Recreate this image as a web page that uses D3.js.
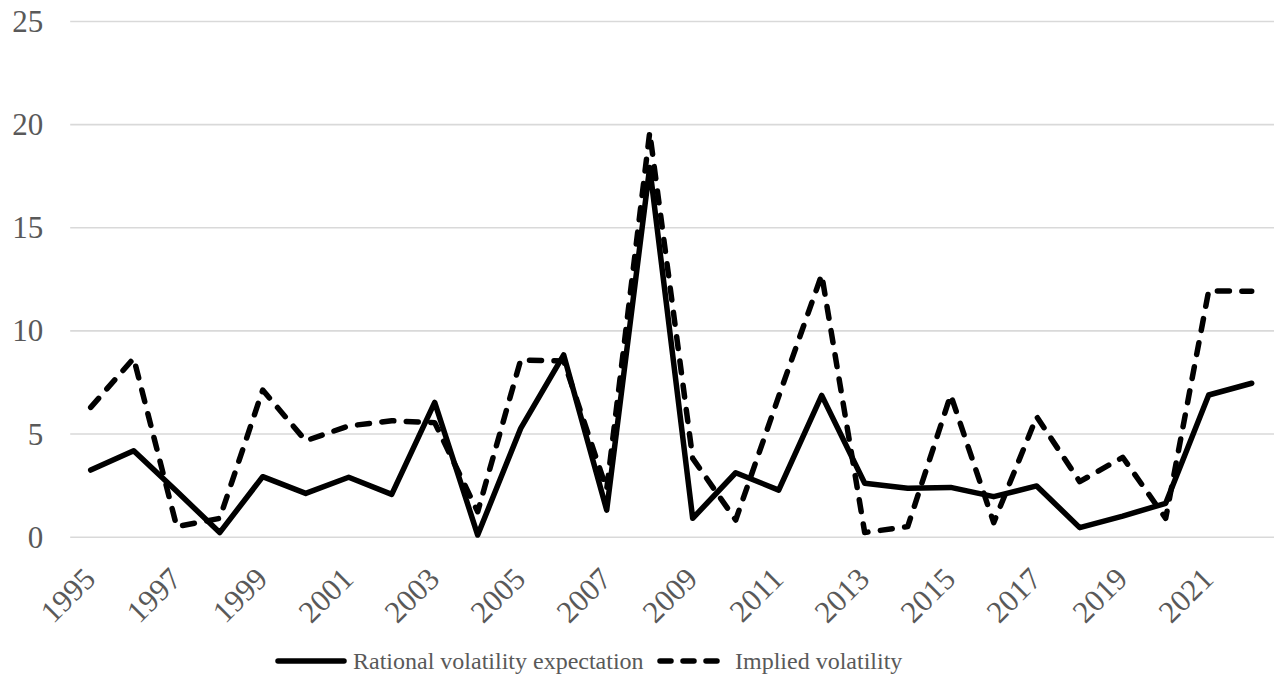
<!DOCTYPE html>
<html>
<head>
<meta charset="utf-8">
<script src="https://cdn.jsdelivr.net/npm/d3@7/dist/d3.min.js"></script>
<style>
  html, body { margin: 0; padding: 0; background: #ffffff; }
  svg { display: block; }
</style>
</head>
<body>
<svg id="chart" width="1274" height="676"></svg>
<script>
const years = [1995,1996,1997,1998,1999,2000,2001,2002,2003,2004,2005,2006,2007,2008,2009,2010,2011,2012,2013,2014,2015,2016,2017,2018,2019,2020,2021,2022];
const rational = [3.23,4.17,2.2,0.2,2.91,2.1,2.88,2.05,6.51,0.08,5.25,8.81,1.29,17.9,0.89,3.1,2.26,6.85,2.59,2.35,2.39,1.94,2.46,0.44,1.0,1.62,6.87,7.44];
const implied = [6.27,8.65,0.49,0.89,7.11,4.65,5.37,5.62,5.53,1.21,8.57,8.52,2.3,19.6,3.8,0.81,6.8,12.7,0.2,0.49,6.87,0.68,5.82,2.67,3.85,0.89,11.92,11.9];
const yTicks = [0,5,10,15,20,25];
const xTickLabels = [1995,1997,1999,2001,2003,2005,2007,2009,2011,2013,2015,2017,2019,2021];
const seriesNames = ["Rational volatility expectation", "Implied volatility"];

(function () {
const svg = d3.select("#chart");
const plotLeft = 69.2, plotRight = 1273.2, plotTop = 21, plotBottom = 536.7;
const font = "'Liberation Serif','Times New Roman',serif";
const labelColor = "#595959";

const x = d3.scalePoint().domain(years).range([plotLeft, plotRight]).padding(0.5);
const y = d3.scaleLinear().domain([0, 25]).range([plotBottom, plotTop]);

// gridlines + y labels
const yAxis = d3.axisLeft(y).tickValues(yTicks).tickSize(-(plotRight - plotLeft)).tickPadding(27).tickFormat(d3.format("d"));
const gy = svg.append("g").attr("transform", `translate(${plotLeft + 1},0)`).call(yAxis);
gy.select(".domain").remove();
gy.selectAll(".tick line").attr("stroke", "#d9d9d9").attr("stroke-width", 1.6);
gy.selectAll(".tick text").attr("fill", labelColor).style("font-family", font).style("font-size", "31px").attr("dy", "0.34em");

// x axis labels
const xAxis = d3.axisBottom(x).tickValues(xTickLabels).tickSize(0).tickFormat(d3.format("d"));
const gx = svg.append("g").attr("transform", `translate(0,${plotBottom})`).call(xAxis);
gx.select(".domain").remove();
gx.selectAll(".tick text")
  .attr("fill", labelColor)
  .style("font-family", font).style("font-size", "31px")
  .attr("text-anchor", "end")
  .attr("y", 0).attr("dy", 0)
  .attr("transform", "translate(6,44) rotate(-45)");

// lines
const line = d3.line().x((d, i) => x(years[i])).y(d => y(d));
svg.append("path").datum(rational)
  .attr("d", line).attr("fill", "none").attr("stroke", "#000")
  .attr("stroke-width", 5.5).attr("stroke-linejoin", "round").attr("stroke-linecap", "round");
svg.append("path").datum(implied)
  .attr("d", line).attr("fill", "none").attr("stroke", "#000")
  .attr("stroke-width", 5.5).attr("stroke-linejoin", "round").attr("stroke-linecap", "round")
  .attr("stroke-dasharray", "12,12.5");

// legend
const legY = 661;
const lg = svg.append("g");
const items = [
  {name: seriesNames[0], dash: null, x0: 275},
  {name: seriesNames[1], dash: "11,12", x0: 657}
];
items.forEach(it => {
  lg.append("line").attr("x1", it.x0 + 3).attr("x2", it.x0 + 69).attr("y1", legY).attr("y2", legY)
    .attr("stroke", "#000").attr("stroke-width", 5.5).attr("stroke-linecap", "round")
    .attr("stroke-dasharray", it.dash);
  lg.append("text").attr("x", it.x0 + 78).attr("y", legY).attr("dy", "0.33em")
    .attr("fill", labelColor).style("font-family", font).style("font-size", "24px")
    .text(it.name);
});
})();
</script>
</body>
</html>
